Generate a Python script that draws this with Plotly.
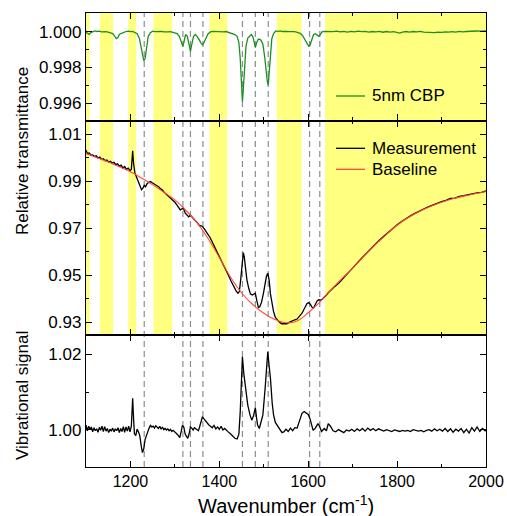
import plotly.graph_objects as go

# ---------------- data ----------------
# Top panel: 5nm CBP relative transmittance
cbp_x = [1100, 1104, 1107, 1111, 1116, 1120, 1125, 1130, 1135, 1140, 1145, 1150, 1155, 1160, 1165, 1168, 1172,
         1175, 1180, 1185, 1190, 1195, 1200, 1205, 1210, 1215, 1220, 1224, 1227, 1230, 1233, 1236, 1240, 1245,
         1250, 1255, 1260, 1265, 1270, 1275, 1280, 1285, 1290, 1295, 1300, 1305, 1310, 1314, 1318, 1321, 1324,
         1328, 1332, 1335, 1338, 1342, 1346, 1350, 1355, 1359, 1363, 1367, 1371, 1375, 1380, 1385, 1390, 1395,
         1400, 1405, 1410, 1415, 1420, 1425, 1430, 1435, 1440, 1444, 1447, 1450, 1452, 1454, 1457, 1460, 1464,
         1468, 1472, 1476, 1479, 1481, 1484, 1488, 1493, 1498, 1502, 1505, 1508, 1510, 1512, 1515, 1518, 1522,
         1527, 1532, 1537, 1542, 1547, 1552, 1557, 1562, 1567, 1572, 1577, 1582, 1587, 1592, 1597, 1601, 1604,
         1608, 1612, 1616, 1620, 1624, 1627, 1631, 1636, 1640, 1648, 1656, 1664, 1672, 1680, 1688, 1696, 1704,
         1712, 1720, 1728, 1736, 1744, 1752, 1760, 1768, 1776, 1784, 1792, 1800, 1806, 1812, 1820, 1828, 1836,
         1844, 1852, 1860, 1868, 1876, 1884, 1892, 1900, 1908, 1916, 1924, 1932, 1940, 1948, 1956, 1964, 1972,
         1980, 1988, 1996, 2000]
cbp_y = [0.99998, 0.99992, 0.99986, 0.99996, 1.00003, 1.00005, 1.00002, 1.00004, 1.00000, 1.00002, 1.00001,
         0.99998, 0.99996, 0.99990, 0.99975, 0.99962, 0.99968, 0.99985, 0.99992, 0.99998, 1.00002, 1.00004,
         1.00001, 1.00003, 0.99998, 0.99990, 0.99965, 0.99920, 0.99870, 0.99838, 0.99850, 0.99920, 0.99975,
         0.99995, 1.00004, 1.00001, 1.00003, 1.00001, 1.00003, 1.00000, 1.00002, 1.00000, 1.00001, 0.99998,
         0.99995, 0.99990, 0.99975, 0.99945, 0.99918, 0.99950, 0.99985, 0.99975, 0.99920, 0.99890, 0.99930,
         0.99975, 0.99985, 0.99975, 0.99955, 0.99935, 0.99928, 0.99945, 0.99970, 0.99990, 1.00000, 1.00003,
         1.00002, 1.00004, 1.00001, 1.00003, 1.00000, 1.00002, 0.99998, 0.99995, 0.99990, 0.99985, 0.99975,
         0.99940, 0.99850, 0.99700, 0.99607, 0.99680, 0.99820, 0.99920, 0.99965, 0.99975, 0.99985, 0.99970,
         0.99925, 0.99912, 0.99940, 0.99960, 0.99955, 0.99930, 0.99860, 0.99780, 0.99720, 0.99701, 0.99760,
         0.99880, 0.99960, 0.99990, 1.00005, 1.00003, 1.00005, 1.00002, 1.00004, 1.00003, 1.00001, 1.00003,
         1.00001, 1.00000, 0.99998, 0.99992, 0.99980, 0.99960, 0.99935, 0.99920, 0.99925, 0.99960, 0.99985,
         0.99990, 0.99980, 0.99975, 0.99985, 1.00000, 1.00003, 1.00002, 1.00004, 1.00001, 1.00004, 1.00000,
         1.00003, 0.99999, 1.00003, 1.00000, 1.00004, 1.00001, 1.00003, 0.99999, 1.00002, 1.00000, 1.00003,
         0.99998, 1.00002, 0.99999, 1.00001, 0.99997, 0.99993, 0.99999, 1.00002, 0.99999, 1.00002, 1.00000,
         1.00003, 0.99999, 0.99997, 0.99999, 0.99996, 0.99999, 0.99997, 1.00000, 0.99998, 1.00001, 0.99999,
         1.00003, 1.00000, 1.00002, 1.00004, 1.00002, 1.00005, 1.00004, 1.00007, 1.00006]

# Middle panel: measurement
meas_x = [1100, 1103, 1107, 1111, 1115, 1119, 1123, 1127, 1131, 1135, 1139, 1143, 1147, 1151, 1155, 1159, 1163,
          1167, 1171, 1175, 1179, 1183, 1187, 1191, 1195, 1199, 1202, 1205, 1207, 1210, 1214, 1218, 1222, 1225,
          1228, 1231, 1234, 1237, 1241, 1245, 1249, 1253, 1256, 1260, 1264, 1268, 1272, 1276, 1280, 1284, 1288,
          1292, 1296, 1300, 1304, 1308, 1312, 1316, 1319, 1323, 1327, 1331, 1335, 1339, 1343, 1347, 1351, 1355,
          1359, 1363, 1367, 1371, 1375, 1379, 1383, 1387, 1391, 1395, 1398, 1402, 1406, 1410, 1414, 1418, 1422,
          1426, 1430, 1434, 1438, 1442, 1445, 1448, 1451, 1454, 1456, 1459, 1462, 1466, 1470, 1474, 1478, 1481,
          1484, 1488, 1491, 1495, 1499, 1503, 1506, 1509, 1512, 1515, 1518, 1522, 1526, 1530, 1535, 1540, 1546,
          1552, 1558, 1564, 1570, 1575, 1580, 1586, 1592, 1597, 1601, 1605, 1609, 1612, 1616, 1620, 1624, 1628,
          1632, 1636, 1640, 1645, 1650, 1655, 1660, 1670, 1680, 1690, 1700, 1710, 1720, 1730, 1740, 1750, 1760,
          1770, 1780, 1790, 1800, 1810, 1820, 1830, 1840, 1850, 1860, 1870, 1880, 1890, 1900, 1910, 1920, 1930,
          1940, 1950, 1960, 1970, 1980, 1990, 2000]
meas_y = [1.0032, 1.0018, 1.0020, 1.0011, 1.0012, 1.0005, 1.0008, 0.9999, 1.0002, 0.9992, 0.9995, 0.9987, 0.9990,
          0.9981, 0.9984, 0.9976, 0.9980, 0.9970, 0.9974, 0.9964, 0.9968, 0.9956, 0.9962, 0.9950, 0.9955, 0.9945,
          0.9950, 1.0029, 0.9975, 0.9935, 0.9915, 0.9895, 0.9872, 0.9863, 0.9870, 0.9882, 0.9876, 0.9888, 0.9895,
          0.9898, 0.9893, 0.9888, 0.9886, 0.9882, 0.9875, 0.9867, 0.9862, 0.9852, 0.9845, 0.9838, 0.9830, 0.9826,
          0.9818, 0.9810, 0.9800, 0.9790, 0.9778, 0.9782, 0.9785, 0.9765, 0.9755, 0.9748, 0.9755, 0.9745, 0.9736,
          0.9730, 0.9721, 0.9712, 0.9710, 0.9705, 0.9695, 0.9685, 0.9672, 0.9660, 0.9645, 0.9630, 0.9614, 0.9598,
          0.9586, 0.9570, 0.9555, 0.9540, 0.9524, 0.9508, 0.9493, 0.9476, 0.9460, 0.9445, 0.9432, 0.9423, 0.9430,
          0.9480, 0.9560, 0.9596, 0.9580, 0.9520, 0.9480, 0.9445, 0.9420, 0.9415, 0.9420, 0.9423, 0.9395, 0.9362,
          0.9365, 0.9385, 0.9420, 0.9465, 0.9495, 0.9508, 0.9480, 0.9420, 0.9381, 0.9345, 0.9320, 0.9310, 0.9300,
          0.9293, 0.9293, 0.9293, 0.9300, 0.9306, 0.9310, 0.9313, 0.9323, 0.9338, 0.9360, 0.9378, 0.9383, 0.9375,
          0.9362, 0.9360, 0.9375, 0.9390, 0.9395, 0.9394, 0.9398, 0.9408, 0.9413, 0.9425, 0.9435, 0.9446, 0.9452,
          0.9468, 0.9488, 0.9507, 0.9530, 0.9551, 0.9572, 0.9592, 0.9612, 0.9630, 0.9648, 0.9665, 0.9682, 0.9698,
          0.9714, 0.9728, 0.9741, 0.9752, 0.9763, 0.9773, 0.9782, 0.9791, 0.9798, 0.9806, 0.9813, 0.9818, 0.9826,
          0.9828, 0.9835, 0.9838, 0.9843, 0.9845, 0.9850, 0.9852, 0.9858]

# Middle panel: baseline
base_x = [1100, 1125, 1150, 1175, 1200, 1225, 1250, 1275, 1300, 1325, 1350, 1375, 1400, 1425, 1450, 1475, 1500,
          1525, 1550, 1575, 1600, 1625, 1650, 1675, 1700, 1725, 1750, 1775, 1800, 1825, 1850, 1875, 1900, 1925,
          1950, 1975, 2000]
base_y = [1.0017, 0.9999, 0.9981, 0.9961, 0.9940, 0.9913, 0.9884, 0.9853, 0.9820, 0.9775, 0.9722, 0.9655, 0.9575,
          0.9492, 0.9425, 0.9375, 0.9338, 0.9311, 0.9297, 0.9305, 0.9340, 0.9383, 0.9435, 0.9484, 0.9530, 0.9580,
          0.9628, 0.9671, 0.9712, 0.9745, 0.9771, 0.9792, 0.9810, 0.9825, 0.9836, 0.9846, 0.9856]

# Bottom panel: vibrational signal
vib_x = [1100, 1103, 1106, 1109, 1112, 1115, 1118, 1121, 1124, 1127, 1130, 1133, 1136, 1139, 1142, 1145, 1148,
         1151, 1154, 1157, 1160, 1163, 1166, 1169, 1172, 1175, 1178, 1181, 1184, 1187, 1190, 1193, 1196, 1199,
         1202, 1205, 1207, 1209, 1212, 1215, 1218, 1221, 1224, 1227, 1230, 1233, 1236, 1239, 1242, 1245, 1248,
         1251, 1254, 1257, 1260, 1263, 1266, 1269, 1272, 1275, 1278, 1281, 1284, 1287, 1290, 1293, 1296, 1300,
         1304, 1308, 1311, 1314, 1317, 1320, 1323, 1326, 1329, 1332, 1335, 1338, 1341, 1344, 1347, 1350, 1353,
         1356, 1359, 1362, 1365, 1368, 1372, 1376, 1380, 1384, 1388, 1392, 1396, 1400, 1404, 1408, 1412, 1416,
         1420, 1425, 1430, 1435, 1440, 1444, 1447, 1450, 1452, 1455, 1460, 1464, 1469, 1473, 1477, 1481, 1484,
         1486, 1490, 1494, 1498, 1503, 1506, 1509, 1512, 1515, 1519, 1522, 1526, 1530, 1537, 1541, 1545, 1550,
         1555, 1560, 1565, 1570, 1575, 1580, 1586, 1591, 1596, 1600, 1604, 1608, 1611, 1616, 1622, 1626, 1630,
         1636, 1641, 1645, 1650, 1656, 1662, 1668, 1674, 1680, 1686, 1692, 1698, 1704, 1710, 1716, 1722, 1728,
         1734, 1740, 1746, 1752, 1758, 1764, 1770, 1776, 1782, 1788, 1794, 1800, 1806, 1812, 1818, 1824, 1830,
         1836, 1842, 1848, 1854, 1860, 1866, 1872, 1878, 1884, 1890, 1896, 1902, 1908, 1914, 1920, 1926, 1932,
         1938, 1944, 1950, 1956, 1962, 1968, 1974, 1980, 1986, 1992, 1998, 2000]
vib_y = [1.0013, 0.9998, 1.0010, 1.0002, 1.0008, 0.9995, 1.0006, 0.9998, 1.0003, 0.9994, 1.0007, 0.9999, 1.0010,
         0.9996, 1.0009, 0.9997, 1.0004, 0.9993, 1.0002, 0.9997, 1.0005, 0.9995, 1.0003, 0.9998, 1.0006, 0.9993,
         1.0004, 0.9996, 1.0009, 0.9994, 1.0008, 0.9997, 1.0010, 0.9995, 1.0010, 1.0084, 1.0030, 0.9990, 0.9985,
         1.0002, 0.9995, 0.9985, 0.9960, 0.9940, 0.9950, 0.9975, 0.9985, 0.9998, 1.0005, 1.0012, 1.0008, 1.0010,
         1.0005, 1.0011, 1.0006, 1.0004, 1.0010, 1.0002, 1.0008, 1.0001, 1.0004, 1.0000, 1.0003, 0.9998, 1.0002,
         0.9996, 0.9999, 0.9993, 0.9990, 0.9985, 0.9980, 0.9995, 1.0012, 1.0008, 0.9990, 0.9983, 0.9978, 0.9990,
         1.0008, 1.0005, 1.0000, 1.0006, 1.0003, 1.0001, 0.9998, 1.0010, 1.0025, 1.0035, 1.0030, 1.0025, 1.0020,
         1.0014, 1.0010, 1.0006, 1.0012, 1.0003, 1.0008, 1.0002, 1.0010, 1.0000, 1.0004, 0.9998, 0.9995, 0.9990,
         0.9983, 0.9978, 0.9976, 0.9989, 1.0048, 1.0150, 1.0194, 1.0150, 1.0095, 1.0066, 1.0040, 1.0026, 1.0038,
         1.0059, 1.0030, 1.0013, 1.0004, 1.0020, 1.0040, 1.0110, 1.0175, 1.0207, 1.0170, 1.0137, 1.0070, 1.0040,
         1.0020, 1.0013, 0.9999, 0.9993, 0.9995, 1.0002, 0.9996, 1.0005, 0.9998, 1.0006, 1.0005, 1.0021, 1.0044,
         1.0049, 1.0045, 1.0041, 1.0030, 1.0010, 0.9999, 1.0005, 1.0017, 1.0008, 0.9996, 1.0004, 0.9998, 1.0017,
         1.0010, 0.9998, 0.9995, 1.0001, 0.9996, 0.9993, 1.0000, 0.9997, 1.0002, 0.9996, 1.0003, 0.9998, 1.0004,
         0.9997, 1.0005, 0.9999, 1.0004, 0.9998, 1.0003, 1.0001, 0.9997, 1.0001, 0.9999, 0.9996, 1.0000, 0.9998,
         0.9996, 0.9999, 0.9997, 0.9999, 0.9996, 1.0001, 0.9998, 0.9997, 0.9999, 0.9995, 0.9999, 1.0001, 0.9997,
         1.0003, 0.9998, 1.0002, 0.9997, 1.0004, 0.9996, 1.0003, 0.9994, 1.0002, 0.9997, 1.0004, 0.9993, 1.0002,
         0.9992, 1.0006, 0.9997, 1.0008, 0.9996, 1.0004, 0.9998, 1.0001]

# Highlighted (yellow) wavenumber bands and marked vibrational lines
band_start = [1100, 1131, 1195, 1252, 1378, 1529, 1638]
band_end = [1108, 1161, 1213, 1294, 1418, 1585, 2000]
mode_lines = [1231, 1318, 1335, 1363, 1452, 1481, 1510, 1603, 1626]

# Legend entries: (label, colour, row in pixels)
legend_labels = ["5nm CBP", "Measurement", "Baseline"]

# ---------------- figure ----------------
FONT = "Liberation Sans, Arial, sans-serif"
W, H = 507, 516
ML, MR, MT, MB = 86, 21, 13, 49
PW = W - ML - MR
PH = H - MT - MB
def py(pix):  # pixel row -> paper fraction
    return (H - MB - pix) / PH
def px(pix):  # pixel column -> paper fraction
    return (pix - ML) / PW

d_top = [py(120.5), 1.0]
d_mid = [py(334.8), py(120.5)]
d_bot = [0.0, py(334.8)]

GREEN, BLACK, RED = "#1e8f1e", "black", "#ff4a3d"

fig = go.Figure()
fig.add_trace(go.Scatter(x=cbp_x, y=cbp_y, mode="lines", name=legend_labels[0],
                         line=dict(color=GREEN, width=1.3), xaxis="x", yaxis="y", showlegend=False))
fig.add_trace(go.Scatter(x=meas_x, y=meas_y, mode="lines", name=legend_labels[1],
                         line=dict(color=BLACK, width=1.3), xaxis="x2", yaxis="y2", showlegend=False))
fig.add_trace(go.Scatter(x=base_x, y=base_y, mode="lines", name=legend_labels[2], line_shape="spline",
                         line=dict(color=RED, width=1.1), xaxis="x2", yaxis="y2", showlegend=False))
fig.add_trace(go.Scatter(x=vib_x, y=vib_y, mode="lines", name="Vibrational signal",
                         line=dict(color=BLACK, width=1.3), xaxis="x3", yaxis="y3", showlegend=False))

shapes = []
for a, b in zip(band_start, band_end):
    shapes.append(dict(type="rect", xref="x", yref="paper", x0=a, x1=b, y0=d_mid[0], y1=1,
                       fillcolor="#ffff80", line=dict(width=0), layer="below"))
for v in mode_lines:
    shapes.append(dict(type="line", xref="x", yref="paper", x0=v, x1=v, y0=0, y1=1,
                       line=dict(color="#8c8c8c", width=1.2, dash="6px,4px"), layer="below"))

# hand-drawn legends (line sample + label)
annotations = []
for label, color, row in zip(legend_labels, [GREEN, BLACK, RED], [96, 148.3, 169.3]):
    shapes.append(dict(type="line", xref="paper", yref="paper", x0=px(336), x1=px(365),
                       y0=py(row), y1=py(row), line=dict(color=color, width=1.3)))
    annotations.append(dict(text=label, xref="paper", yref="paper", x=px(370), y=py(row),
                            xanchor="left", yanchor="middle", showarrow=False, font=dict(size=17)))

annotations += [
    dict(text="Relative transmittance", xref="paper", yref="paper", x=px(22), y=py(151),
         textangle=-90, showarrow=False, xanchor="center", yanchor="middle", font=dict(size=17)),
    dict(text="Vibrational signal", xref="paper", yref="paper", x=px(22), y=py(396),
         textangle=-90, showarrow=False, xanchor="center", yanchor="middle", font=dict(size=17)),
    dict(text="Wavenumber (cm<sup>-1</sup>)", xref="paper", yref="paper", x=0.5, y=py(504),
         showarrow=False, xanchor="center", yanchor="middle", font=dict(size=20)),
]

axis_common = dict(showline=True, linecolor="black", linewidth=1.3, mirror="allticks",
                   ticks="inside", tickcolor="black", ticklen=6, tickwidth=1.2,
                   showgrid=False, zeroline=False)
xcommon = dict(axis_common, range=[1100, 2000], dtick=200, tick0=1200,
               minor=dict(dtick=100, ticks="inside", ticklen=3, tickcolor="black", tickwidth=1.2))
minor_y = dict(ticks="inside", ticklen=3, tickcolor="black", tickwidth=1.2)

fig.update_layout(
    width=W, height=H, margin=dict(l=ML, r=MR, t=MT, b=MB, autoexpand=False),
    paper_bgcolor="white", plot_bgcolor="white", showlegend=False,
    font=dict(family=FONT, size=17, color="black"),
    xaxis=dict(xcommon, domain=[0, 1], anchor="y", showticklabels=False),
    xaxis2=dict(xcommon, domain=[0, 1], anchor="y2", showticklabels=False, matches="x"),
    xaxis3=dict(xcommon, domain=[0, 1], anchor="y3", showticklabels=True, matches="x",
                tickfont=dict(size=16)),
    yaxis=dict(axis_common, domain=d_top, anchor="x", range=[0.99502, 1.00106],
               tickvals=[0.996, 0.998, 1.000], ticktext=["0.996", "0.998", "1.000"],
               minor=dict(minor_y, tickvals=[0.995, 0.997, 0.999]), tickfont=dict(size=17)),
    yaxis2=dict(axis_common, domain=d_mid, anchor="x2", range=[0.9246, 1.0158],
                tickvals=[0.93, 0.95, 0.97, 0.99, 1.01], ticktext=["0.93", "0.95", "0.97", "0.99", "1.01"],
                minor=dict(minor_y, tickvals=[0.94, 0.96, 0.98, 1.00]), tickfont=dict(size=17)),
    yaxis3=dict(axis_common, domain=d_bot, anchor="x3", range=[0.9902, 1.0252],
                tickvals=[1.00, 1.02], ticktext=["1.00", "1.02"],
                minor=dict(minor_y, tickvals=[1.01]), tickfont=dict(size=17)),
    shapes=shapes,
    annotations=annotations,
)

fig.write_html("out.html", config={"displayModeBar": False},
               post_script="document.body.style.margin='0px';document.body.style.padding='0px';"
                           "document.body.style.overflow='hidden';")
